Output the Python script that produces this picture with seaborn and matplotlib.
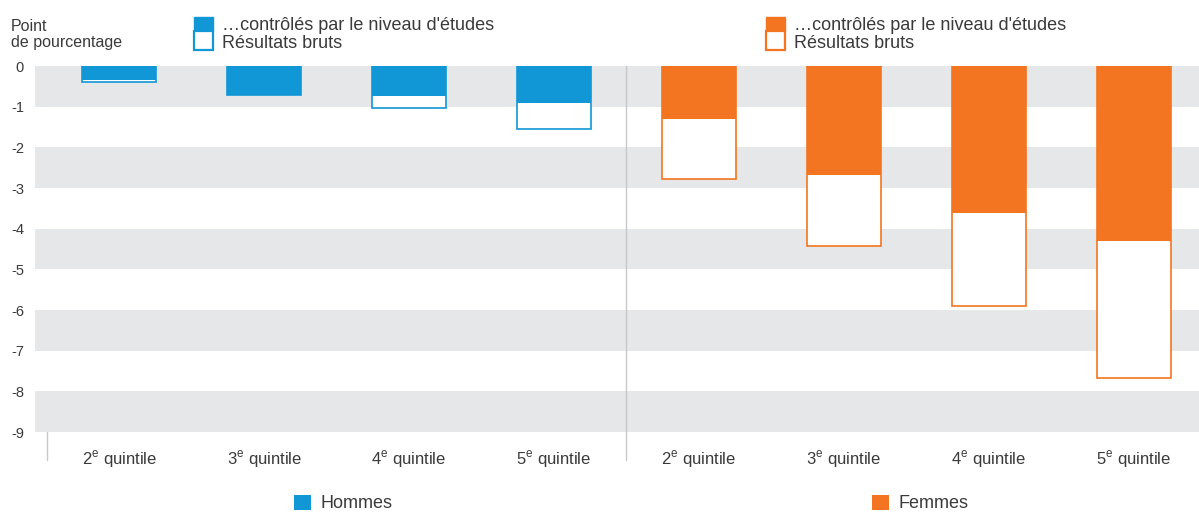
import matplotlib
matplotlib.use("Agg")
import matplotlib.pyplot as plt
from matplotlib.patches import Rectangle
import seaborn as sns
import pandas as pd

# ---- data ----
quintiles = ["2", "3", "4", "5"]
groups = ["Hommes", "Femmes"]
hommes_controle = [-0.35, -0.71, -0.74, -0.90]
hommes_brut = [-0.40, -0.71, -1.03, -1.55]
femmes_controle = [-1.30, -2.68, -3.62, -4.31]
femmes_brut = [-2.78, -4.43, -5.89, -7.68]
yticks = [0, -1, -2, -3, -4, -5, -6, -7, -8, -9]
legend_controle = "…contrôlés par le niveau d'études"
legend_brut = "Résultats bruts"
ylabel_lines = ["Point", "de pourcentage"]

BLUE = "#1197D6"
ORANGE = "#F47521"
GREY = "#E6E7E8"
TXT = "#3a3a3a"

keys = [f"{g}-{q}" for g in groups for q in quintiles]
df = pd.DataFrame({
    "pos": keys,
    "sexe": [g for g in groups for _ in quintiles],
    "brut": hommes_brut + femmes_brut,
    "controle": hommes_controle + femmes_controle,
})

sns.set_style("white")
plt.rcParams["font.family"] = ["Liberation Sans", "DejaVu Sans"]
plt.rcParams["mathtext.fontset"] = "custom"
plt.rcParams["mathtext.rm"] = "Liberation Sans"
plt.rcParams["axes.unicode_minus"] = False

fig = plt.figure(figsize=(11.99, 5.12), dpi=100)
ax = fig.add_axes([35 / 1199, (512 - 432) / 512, 1 - 35 / 1199, (432 - 66) / 512])

pal = {"Hommes": BLUE, "Femmes": ORANGE}
W = 0.51
sns.barplot(data=df, x="pos", y="brut", hue="sexe", order=keys, hue_order=groups,
            palette=pal, saturation=1, dodge=False, width=W, legend=False, ax=ax,
            linewidth=1.2)
for p in list(ax.patches):
    c = p.get_facecolor()
    p.set_edgecolor(c)
    p.set_facecolor("white")
    p.set_zorder(2)
n_before = len(ax.patches)
sns.barplot(data=df, x="pos", y="controle", hue="sexe", order=keys, hue_order=groups,
            palette=pal, saturation=1, dodge=False, width=W, legend=False, ax=ax,
            linewidth=0)
for p in ax.patches[n_before:]:
    p.set_zorder(3)

# grey bands
for top in range(0, -9, -2):
    ax.add_patch(Rectangle((0, top - 1), 1, 1, transform=ax.get_yaxis_transform(),
                           facecolor=GREY, edgecolor="none", zorder=0.5))

ax.set_xlim(-0.58, 7.45)
ax.set_ylim(-9, 0)
ax.set_yticks(yticks)
ax.set_yticklabels([str(v) for v in yticks], fontsize=10.5, color=TXT)
ax.set_xticks(range(len(keys)))
ax.set_xticklabels([rf"{q}$^{{\mathrm{{e}}}}$ quintile" for g in groups for q in quintiles],
                   fontsize=12, color=TXT)
ax.tick_params(axis="x", length=0, pad=12)
ax.tick_params(axis="y", length=0, pad=8)
ax.set_xlabel("")
ax.set_ylabel("")
for s in ax.spines.values():
    s.set_visible(False)

# separator lines
ax.plot([3.5, 3.5], [0, -9.7], color="#c8c8c8", lw=1, clip_on=False, zorder=1)
ax.plot([-0.5, -0.5], [-9, -9.7], color="#c8c8c8", lw=1, clip_on=False, zorder=1)

# y label
fig.text(11 / 1199, 1 - 31 / 512, ylabel_lines[0], ha="left", va="baseline",
         fontsize=11.5, color=TXT)
fig.text(11 / 1199, 1 - 47 / 512, ylabel_lines[1], ha="left", va="baseline",
         fontsize=11.5, color=TXT)

# top legends
def top_legend(x0, color):
    w = 19 / 1199
    top, mid, bot = 1 - 17 / 512, 1 - 31 / 512, 1 - 50 / 512
    fig.add_artist(Rectangle((x0 / 1199, mid), w, top - mid, transform=fig.transFigure,
                             facecolor=color, edgecolor=color, lw=1.0))
    fig.add_artist(Rectangle((x0 / 1199, bot), w, mid - bot, transform=fig.transFigure,
                             facecolor="white", edgecolor=color, lw=1.6))
    fig.text((x0 + 28) / 1199, 1 - 30 / 512, legend_controle, ha="left", va="baseline",
             fontsize=13, color=TXT)
    fig.text((x0 + 28) / 1199, 1 - 48 / 512, legend_brut, ha="left", va="baseline",
             fontsize=13, color=TXT)

top_legend(194, BLUE)
top_legend(766, ORANGE)

# bottom legends
def bottom_legend(x0, color, label):
    fig.add_artist(Rectangle((x0 / 1199, 1 - 510 / 512), 17 / 1199, 15 / 512,
                             transform=fig.transFigure, facecolor=color, lw=0))
    fig.text((x0 + 26) / 1199, 1 - 503 / 512, label, ha="left", va="center",
             fontsize=13, color=TXT)

bottom_legend(294, BLUE, groups[0])
bottom_legend(872, ORANGE, groups[1])

fig.savefig("out.png", dpi=100)
